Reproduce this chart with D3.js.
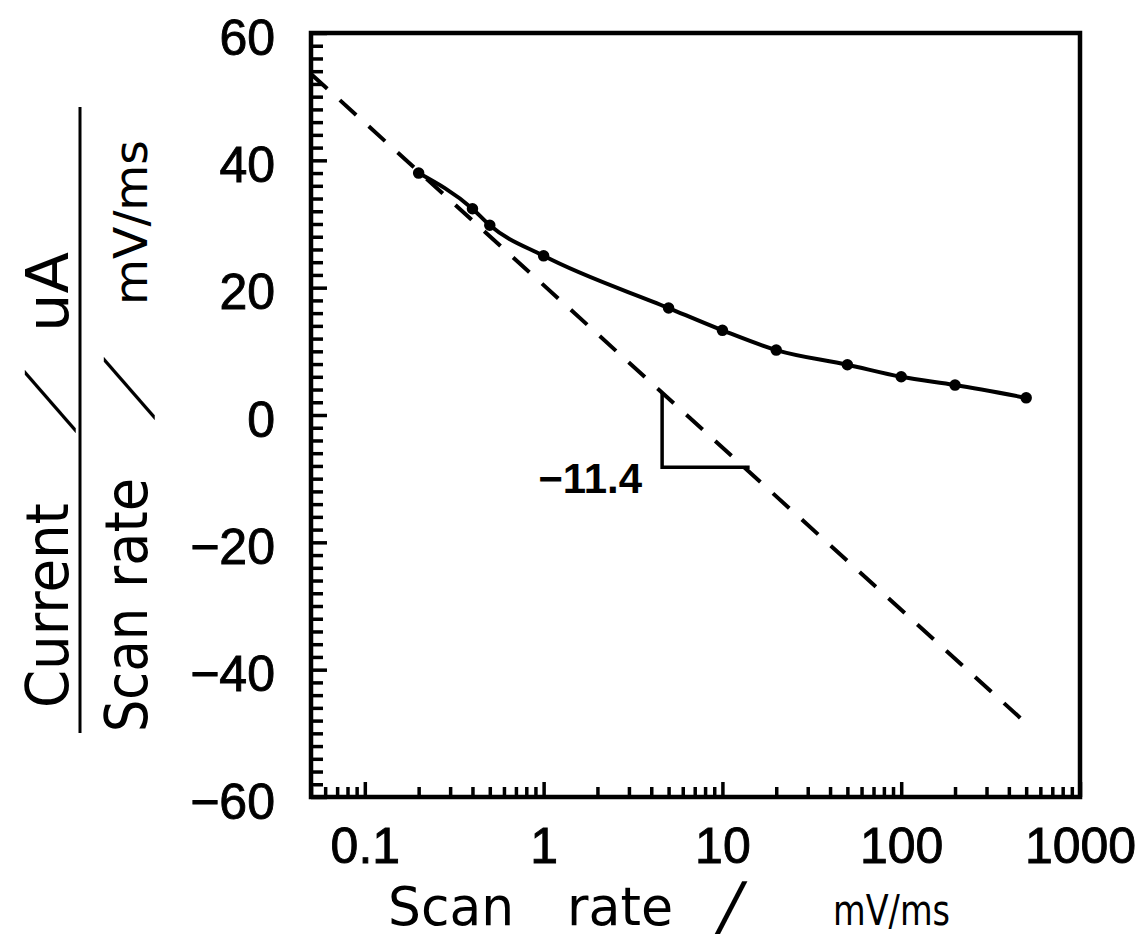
<!DOCTYPE html>
<html>
<head>
<meta charset="utf-8">
<script src="https://cdn.jsdelivr.net/npm/d3@7"></script>
<style>
  body { margin: 0; background: #fff; }
  svg { display: block; }
</style>
</head>
<body>
<div id="chart"></div>
<script>
// Measured points: normalised current vs scan rate
const scanRates   = [0.2, 0.4, 0.5, 1, 5, 10, 20, 50, 100, 200, 500];
const normCurrent = [38.0, 32.4, 29.8, 25.0, 16.8, 13.3, 10.2, 7.9, 6.0, 4.7, 2.7];

// Dashed limiting line: y = fitIntercept + fitSlopePerDecade * log10(rate)
const fitRange          = [0.05, 500];
const fitIntercept      = 20.4;
const fitSlopePerDecade = -25.5;

// Slope triangle (corner at slopeTriX[0], slopeTriY) and its label
const slopeTriX  = [4.6, 14.2];
const slopeTriY  = -8.2;
const slopeLabel = "\u221211.4";

const xTickValues = [0.1, 1, 10, 100, 1000];
const xTickLabels = ["0.1", "1", "10", "100", "1000"];
const yTickValues = [-60, -40, -20, 0, 20, 40, 60];
const yTickLabels = ["\u221260", "\u221240", "\u221220", "0", "20", "40", "60"];

const W = 1145, H = 952;
const margin = { top: 33, right: 65, bottom: 155, left: 311 };
const innerW = W - margin.left - margin.right;
const innerH = H - margin.top - margin.bottom;

const TICK_FONT  = "'Liberation Sans', Arial, sans-serif";
const TITLE_FONT = "'DejaVu Sans', sans-serif";

const svg = d3.select("#chart").append("svg")
    .attr("width", W).attr("height", H);

svg.append("rect").attr("width", W).attr("height", H).attr("fill", "#fff");

const g = svg.append("g")
    .attr("transform", `translate(${margin.left},${margin.top})`);

const x = d3.scaleLog().domain([0.05, 1000]).range([0, innerW]);
const y = d3.scaleLinear().domain([-60, 60]).range([innerH, 0]);

function styleAxis(sel) {
    sel.select(".domain").remove();
    sel.selectAll("line").attr("stroke", "#000").attr("stroke-width", 3.5);
    sel.attr("font-family", TICK_FONT).attr("font-size", 50);
    sel.selectAll("text").attr("fill", "#000")
        .attr("stroke", "#000").attr("stroke-width", 0.9);
}

// X axis: minor ticks, then decades with labels
const isDecade = v => Math.abs(Math.log10(v) - Math.round(Math.log10(v))) < 1e-9;
g.append("g")
    .attr("transform", `translate(0,${innerH})`)
    .call(d3.axisBottom(x).tickValues(x.ticks().filter(v => !isDecade(v))).tickSize(-10).tickFormat(""))
    .call(styleAxis);

g.append("g")
    .attr("transform", `translate(0,${innerH})`)
    .call(d3.axisBottom(x).tickValues(xTickValues).tickSize(-15).tickPadding(30)
        .tickFormat((d, i) => xTickLabels[i]))
    .call(styleAxis);

// Y axis: minor every 2, labelled every 20
g.append("g")
    .call(d3.axisLeft(y).tickValues(d3.range(-60, 61, 2).filter(v => v % 20 !== 0)).tickSize(-12).tickFormat(""))
    .call(styleAxis);

g.append("g")
    .call(d3.axisLeft(y).tickValues(yTickValues).tickSize(-16).tickPadding(36)
        .tickFormat((d, i) => yTickLabels[i]))
    .call(styleAxis)
    .selectAll("text").attr("dy", "0.42em");

// Frame
g.append("rect")
    .attr("width", innerW).attr("height", innerH)
    .attr("fill", "none").attr("stroke", "#000").attr("stroke-width", 4.5);

// Dashed limiting line
const fit = r => fitIntercept + fitSlopePerDecade * Math.log10(r);
g.append("path")
    .datum(fitRange.map(r => [r, fit(r)]))
    .attr("d", d3.line().x(d => x(d[0])).y(d => y(d[1])))
    .attr("fill", "none").attr("stroke", "#000")
    .attr("stroke-width", 4).attr("stroke-dasharray", "22 17");

// Slope triangle
g.append("path")
    .datum([[slopeTriX[0], fit(slopeTriX[0])], [slopeTriX[0], slopeTriY], [slopeTriX[1], slopeTriY]])
    .attr("d", d3.line().x(d => x(d[0])).y(d => y(d[1])))
    .attr("fill", "none").attr("stroke", "#000").attr("stroke-width", 3.5);

g.append("text")
    .attr("x", x(slopeTriX[0]) - 20)
    .attr("y", y(slopeTriY) + 26)
    .attr("text-anchor", "end")
    .attr("font-family", TICK_FONT).attr("font-size", 42).attr("font-weight", "bold")
    .text(slopeLabel);

// Measured curve + markers
const pts = scanRates.map((r, i) => [r, normCurrent[i]]);
g.append("path")
    .datum(pts)
    .attr("d", d3.line().x(d => x(d[0])).y(d => y(d[1])).curve(d3.curveMonotoneX))
    .attr("fill", "none").attr("stroke", "#000").attr("stroke-width", 4);

g.selectAll(".dot").data(pts).enter()
    .append("circle").attr("class", "dot")
    .attr("cx", d => x(d[0])).attr("cy", d => y(d[1]))
    .attr("r", 4.5)
    .attr("fill", "#000").attr("stroke", "#000").attr("stroke-width", 2.5);

// X title: "Scan rate / mV/ms"
const xt = svg.append("g").attr("font-family", TITLE_FONT).attr("fill", "#000");
xt.append("text").attr("x", 388).attr("y", 925).attr("font-size", 54)
    .attr("textLength", 126).attr("lengthAdjust", "spacingAndGlyphs").text("Scan");
xt.append("text").attr("x", 567).attr("y", 925).attr("font-size", 54)
    .attr("textLength", 106).attr("lengthAdjust", "spacingAndGlyphs").text("rate");
xt.append("text").attr("transform", "translate(716,928) skewX(-12)")
    .attr("font-size", 64).text("/");
xt.append("text").attr("x", 833).attr("y", 925).attr("font-size", 42)
    .attr("textLength", 117).attr("lengthAdjust", "spacingAndGlyphs").text("mV/ms");

// Y title: fraction (Current / uA) over (Scan rate / mV/ms), rotated
svg.append("line")
    .attr("x1", 80).attr("x2", 80).attr("y1", 107).attr("y2", 733)
    .attr("stroke", "#000").attr("stroke-width", 3);

const yt = svg.append("g").attr("transform", "rotate(-90)")
    .attr("font-family", TITLE_FONT).attr("fill", "#000");
// numerator
yt.append("text").attr("x", -708).attr("y", 68).attr("font-size", 58)
    .attr("textLength", 205).attr("lengthAdjust", "spacingAndGlyphs").text("Current");
yt.append("text").attr("transform", "translate(-418,70) skewX(-40)").attr("font-size", 62)
    .attr("text-anchor", "middle").text("/");
yt.append("text").attr("x", -332).attr("y", 68).attr("font-size", 58)
    .attr("textLength", 80).attr("lengthAdjust", "spacingAndGlyphs").text("uA");
// denominator
yt.append("text").attr("x", -732).attr("y", 147).attr("font-size", 58)
    .attr("textLength", 124).attr("lengthAdjust", "spacingAndGlyphs").text("Scan");
yt.append("text").attr("x", -588).attr("y", 147).attr("font-size", 58)
    .attr("textLength", 110).attr("lengthAdjust", "spacingAndGlyphs").text("rate");
yt.append("text").attr("transform", "translate(-405,149) skewX(-40)").attr("font-size", 62)
    .attr("text-anchor", "middle").text("/");
yt.append("text").attr("x", -305).attr("y", 147).attr("font-size", 46)
    .attr("textLength", 165).attr("lengthAdjust", "spacingAndGlyphs").text("mV/ms");
</script>
</body>
</html>
